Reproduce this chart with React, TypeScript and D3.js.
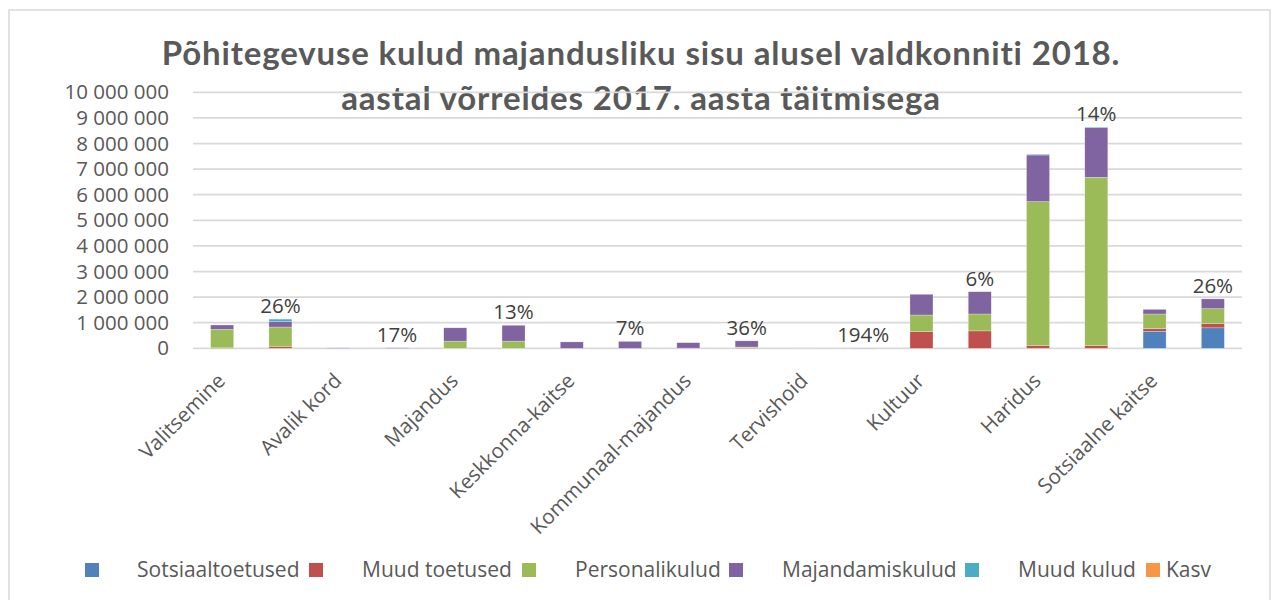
import React from "react";
import * as d3 from "d3";

const categories = [
  "Valitsemine",
  "Avalik kord",
  "Majandus",
  "Keskkonna-kaitse",
  "Kommunaal-majandus",
  "Tervishoid",
  "Kultuur",
  "Haridus",
  "Sotsiaalne kaitse",
];
const years = ["2017", "2018"];
const seriesNames = [
  "Sotsiaaltoetused",
  "Muud toetused",
  "Personalikulud",
  "Majandamiskulud",
  "Muud kulud",
  "Kasv",
];
const seriesColors = ["#4F81BD", "#C0504D", "#9BBB59", "#8064A2", "#4BACC6", "#F79646"];

// values per category (2017 / 2018)
const sotsiaaltoetused2017 = [0, 0, 0, 0, 0, 0, 0, 0, 660000];
const sotsiaaltoetused2018 = [0, 0, 0, 0, 0, 0, 0, 0, 800000];
const muudToetused2017 = [20000, 0, 0, 0, 10000, 0, 650000, 100000, 110000];
const muudToetused2018 = [60000, 0, 0, 0, 20000, 0, 680000, 100000, 160000];
const personalikulud2017 = [720000, 0, 280000, 0, 0, 0, 650000, 5630000, 570000];
const personalikulud2018 = [770000, 0, 280000, 0, 30000, 0, 660000, 6580000, 590000];
const majandamiskulud2017 = [170000, 15000, 520000, 250000, 210000, 3000, 810000, 1820000, 180000];
const majandamiskulud2018 = [210000, 18000, 620000, 270000, 240000, 9000, 870000, 1940000, 380000];
const muudKulud2017 = [0, 0, 0, 0, 0, 0, 0, 30000, 0];
const muudKulud2018 = [100000, 0, 0, 0, 0, 0, 0, 20000, 0];
const kasvLabels = ["26%", "17%", "13%", "7%", "36%", "194%", "6%", "14%", "26%"];
const yTicks = [0, 1000000, 2000000, 3000000, 4000000, 5000000, 6000000, 7000000, 8000000, 9000000, 10000000];
const titleLines = [
  "Põhitegevuse kulud majandusliku sisu alusel valdkonniti 2018.",
  "aastal võrreldes 2017. aasta täitmisega",
];

const seriesByYear: Record<string, number[][]> = {
  "2017": [sotsiaaltoetused2017, muudToetused2017, personalikulud2017, majandamiskulud2017, muudKulud2017],
  "2018": [sotsiaaltoetused2018, muudToetused2018, personalikulud2018, majandamiskulud2018, muudKulud2018],
};

const FONT = "'Open Sans', 'DejaVu Sans', sans-serif";

export default function App() {
  const W = 1274;
  const H = 600;
  const plot = { left: 193, right: 1242, top: 92.3, bottom: 348.3 };

  const y = d3.scaleLinear().domain([0, 10000000]).range([plot.bottom, plot.top]);
  const xCat = d3.scaleBand<string>().domain(categories).range([plot.left, plot.right]).padding(0);
  const xYear = d3
    .scaleBand<string>()
    .domain(years)
    .range([0, xCat.bandwidth()])
    .paddingInner(0.605)
    .paddingOuter(0.3025);

  const keys = seriesNames.slice(0, 5);
  const rows: any[] = [];
  categories.forEach((c, ci) => {
    years.forEach((yr) => {
      const r: any = { cat: c, year: yr, ci };
      keys.forEach((k, ki) => (r[k] = seriesByYear[yr][ki][ci]));
      rows.push(r);
    });
  });
  const stacked = d3.stack<any>().keys(keys)(rows);
  const totals = rows.map((r) => d3.sum(keys, (k) => r[k]));

  const fmt = d3.formatLocale({ decimal: ",", thousands: " ", grouping: [3], currency: ["", ""] }).format(",d");

  const legendSquareX = [85, 309, 522, 729, 965, 1146];
  const legendTextX = [137, 362, 575, 782, 1018, 1166];

  return (
    <svg
      width={W}
      height={H}
      style={{ position: "absolute", left: 0, top: 0, background: "#fff" }}
      fontFamily={FONT}
    >
      <rect x={9} y={10} width={1261} height={600} fill="#fff" stroke="#d9d9d9" strokeWidth={1.5} />

      {/* title */}
      {titleLines.map((t, i) => (
        <text
          key={i}
          x={641}
          y={65 + i * 45}
          textAnchor="middle"
          fill="#595959"
          fontFamily="Lato, 'Open Sans', sans-serif"
          fontWeight={700}
          fontSize={33}
          letterSpacing={0.85}
        >
          {t}
        </text>
      ))}

      {/* gridlines */}
      {yTicks.map((t) => (
        <line key={t} x1={plot.left} x2={plot.right} y1={y(t)} y2={y(t)} stroke="#d9d9d9" strokeWidth={1.75} />
      ))}

      {/* y labels */}
      {yTicks.map((t) => (
        <text key={"l" + t} x={169} y={y(t) + 7} textAnchor="end" fill="#595959" fontSize={20.5}>
          {fmt(t)}
        </text>
      ))}

      {/* bars */}
      {stacked.map((layer, li) => (
        <g key={layer.key} fill={seriesColors[li]}>
          {layer.map((d, i) => {
            const r = rows[i];
            const h = y(d[0]) - y(d[1]);
            if (h <= 0) return null;
            return (
              <rect
                key={i}
                x={(xCat(r.cat) as number) + (xYear(r.year) as number)}
                y={y(d[1])}
                width={xYear.bandwidth()}
                height={h}
                stroke="#ffffff"
                strokeOpacity={0.5}
                strokeWidth={0.5}
              />
            );
          })}
        </g>
      ))}

      {/* Kasv labels */}
      {categories.map((c, ci) => {
        const idx = ci * 2 + 1;
        const cx = (xCat(c) as number) + (xYear("2018") as number) + xYear.bandwidth() / 2;
        return (
          <text key={"k" + c} x={cx} y={y(totals[idx]) - 6} textAnchor="middle" fill="#404040" fontSize={20.5}>
            {kasvLabels[ci]}
          </text>
        );
      })}

      {/* x labels */}
      {categories.map((c) => {
        const cx = (xCat(c) as number) + xCat.bandwidth() / 2;
        return (
          <text
            key={"x" + c}
            transform={`translate(${cx - 25},${382}) rotate(-45)`}
            textAnchor="end"
            fill="#595959"
            fontSize={20.5}
          >
            {c}
          </text>
        );
      })}

      {/* legend */}
      {seriesNames.map((s, i) => (
        <g key={"lg" + s}>
          <rect x={legendSquareX[i]} y={563} width={14} height={14} fill={seriesColors[i]} />
          <text x={legendTextX[i]} y={577} fill="#595959" fontSize={21}>
            {s}
          </text>
        </g>
      ))}
    </svg>
  );
}
